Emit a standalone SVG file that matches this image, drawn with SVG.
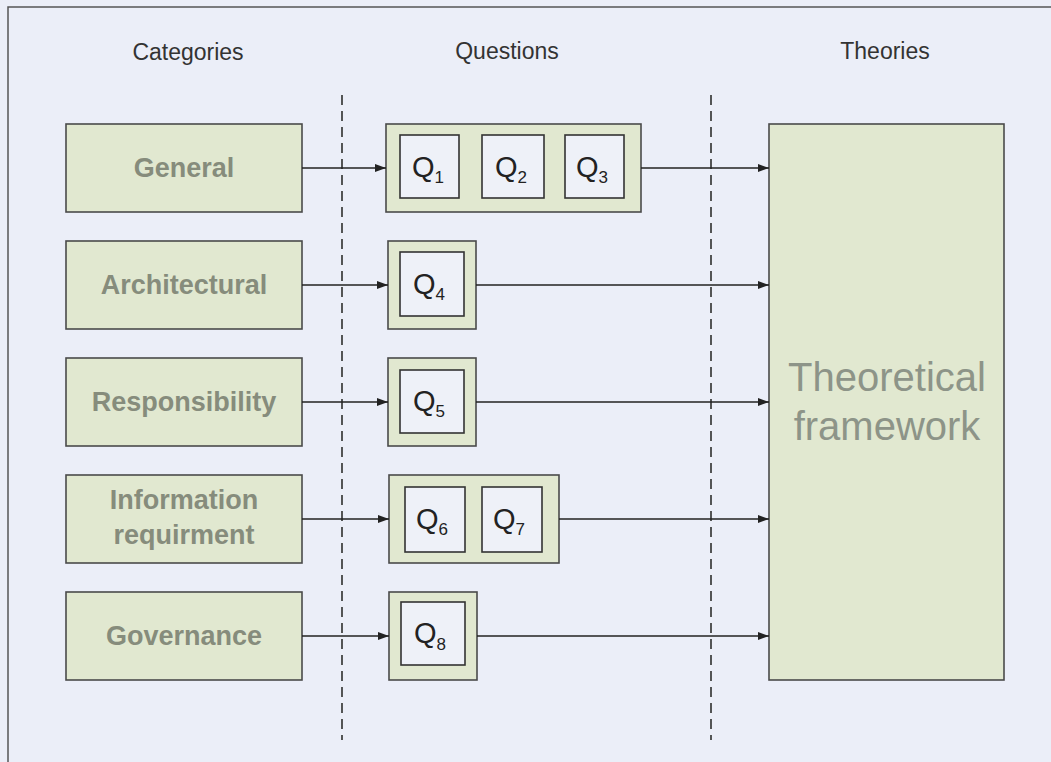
<svg xmlns="http://www.w3.org/2000/svg" width="1051" height="762" viewBox="0 0 1051 762">
<style>
.bg{fill:#ebeef8}
.box{fill:#e1e8d0;stroke:#4a4a4a;stroke-width:1.6}
.q{fill:#eef1f8;stroke:#333;stroke-width:1.6}
.hdr{font-family:"Liberation Sans",Arial,sans-serif;font-size:23px;fill:#333;text-anchor:middle}
.cat{font-family:"Liberation Sans",Arial,sans-serif;font-size:27px;font-weight:bold;fill:#868c7c;text-anchor:middle}
.ql{font-family:"Liberation Sans",Arial,sans-serif;font-size:29px;fill:#222}
.sub{font-size:17px}
.tf{font-family:"Liberation Sans",Arial,sans-serif;font-size:40px;fill:#8d9488;text-anchor:middle}
.dash{stroke:#444;stroke-width:1.8;stroke-dasharray:10,6;fill:none}
.ln{stroke:#222;stroke-width:1.4;fill:none}
</style>
<defs>
<marker id="ah" viewBox="0 0 11 8" refX="11" refY="4" markerWidth="11" markerHeight="8" markerUnits="userSpaceOnUse" orient="auto">
<path d="M0,0 L11,4 L0,8 z" fill="#222"/>
</marker>
</defs>
<rect class="bg" x="0" y="0" width="1051" height="762"/>
<rect x="8" y="7" width="1050" height="770" fill="none" stroke="#555" stroke-width="1.5"/>
<g id="headers">
<text class="hdr" x="188" y="60">Categories</text>
<text class="hdr" x="507" y="59">Questions</text>
<text class="hdr" x="885" y="59">Theories</text>
</g>
<g id="dividers">
<line class="dash" x1="342" y1="95" x2="342" y2="740"/>
<line class="dash" x1="711" y1="95" x2="711" y2="740"/>
</g>
<g id="cat-general"><rect class="box" x="66" y="124" width="236" height="88"/><text class="cat" x="184" y="177">General</text></g>
<g id="cat-architectural"><rect class="box" x="66" y="241" width="236" height="88"/><text class="cat" x="184" y="294">Architectural</text></g>
<g id="cat-responsibility"><rect class="box" x="66" y="358" width="236" height="88"/><text class="cat" x="184" y="411">Responsibility</text></g>
<g id="cat-information"><rect class="box" x="66" y="475" width="236" height="88"/><text class="cat" x="184" y="509">Information</text><text class="cat" x="184" y="544">requirment</text></g>
<g id="cat-governance"><rect class="box" x="66" y="592" width="236" height="88"/><text class="cat" x="184" y="645">Governance</text></g>
<g id="q-general">
<rect class="box" x="386" y="124" width="255" height="88"/>
<rect class="q" x="400" y="135" width="59" height="63"/><text class="ql" x="412" y="177">Q<tspan class="sub" dy="6">1</tspan></text>
<rect class="q" x="482" y="135" width="62" height="63"/><text class="ql" x="495" y="177">Q<tspan class="sub" dy="6">2</tspan></text>
<rect class="q" x="565" y="135" width="59" height="63"/><text class="ql" x="576" y="177">Q<tspan class="sub" dy="6">3</tspan></text>
</g>
<g id="q-architectural">
<rect class="box" x="388" y="241" width="88" height="88"/>
<rect class="q" x="400" y="252" width="64" height="64"/><text class="ql" x="413" y="294">Q<tspan class="sub" dy="6">4</tspan></text>
</g>
<g id="q-responsibility">
<rect class="box" x="388" y="358" width="88" height="88"/>
<rect class="q" x="400" y="370" width="64" height="63"/><text class="ql" x="413" y="411">Q<tspan class="sub" dy="6">5</tspan></text>
</g>
<g id="q-information">
<rect class="box" x="389" y="475" width="170" height="88"/>
<rect class="q" x="405" y="487" width="60" height="65"/><text class="ql" x="416" y="529">Q<tspan class="sub" dy="6">6</tspan></text>
<rect class="q" x="482" y="487" width="60" height="65"/><text class="ql" x="493" y="529">Q<tspan class="sub" dy="6">7</tspan></text>
</g>
<g id="q-governance">
<rect class="box" x="389" y="592" width="88" height="88"/>
<rect class="q" x="401" y="602" width="64" height="63"/><text class="ql" x="414" y="643">Q<tspan class="sub" dy="7">8</tspan></text>
</g>
<g id="theoretical-framework">
<rect class="box" x="769" y="124" width="235" height="556"/>
<text class="tf" x="887" y="391">Theoretical</text>
<text class="tf" x="887" y="440">framework</text>
</g>
<g id="connectors">
<line class="ln" x1="302" y1="168" x2="386" y2="168" marker-end="url(#ah)"/>
<line class="ln" x1="302" y1="285" x2="388" y2="285" marker-end="url(#ah)"/>
<line class="ln" x1="302" y1="402" x2="388" y2="402" marker-end="url(#ah)"/>
<line class="ln" x1="302" y1="519" x2="389" y2="519" marker-end="url(#ah)"/>
<line class="ln" x1="302" y1="636" x2="389" y2="636" marker-end="url(#ah)"/>
<line class="ln" x1="641" y1="168" x2="769" y2="168" marker-end="url(#ah)"/>
<line class="ln" x1="476" y1="285" x2="769" y2="285" marker-end="url(#ah)"/>
<line class="ln" x1="476" y1="402" x2="769" y2="402" marker-end="url(#ah)"/>
<line class="ln" x1="559" y1="519" x2="769" y2="519" marker-end="url(#ah)"/>
<line class="ln" x1="477" y1="636" x2="769" y2="636" marker-end="url(#ah)"/>
</g>
</svg>
